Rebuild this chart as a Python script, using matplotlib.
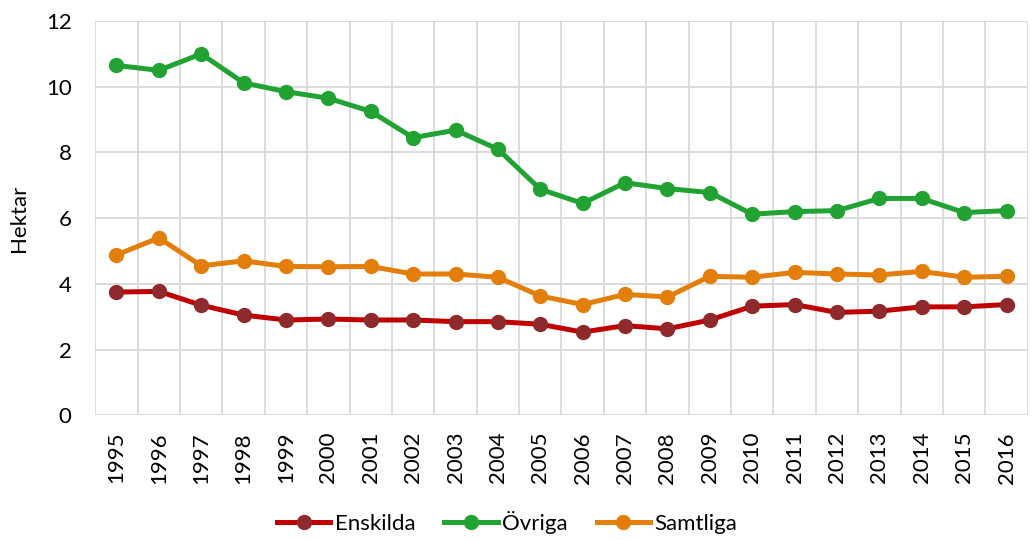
import numpy as np
import matplotlib.pyplot as plt

plt.rcParams['font.family'] = ['Lato', 'DejaVu Sans']

years = [str(y) for y in range(1995, 2017)]
enskilda = [3.75, 3.77, 3.35, 3.05, 2.90, 2.93, 2.90, 2.90, 2.85, 2.85, 2.77,
            2.53, 2.73, 2.63, 2.90, 3.32, 3.37, 3.13, 3.17, 3.30, 3.30, 3.37]
ovriga = [10.65, 10.50, 11.00, 10.12, 9.85, 9.65, 9.25, 8.45, 8.68, 8.10, 6.88,
          6.45, 7.08, 6.90, 6.78, 6.12, 6.20, 6.23, 6.60, 6.60, 6.17, 6.23]
samtliga = [4.88, 5.40, 4.55, 4.70, 4.53, 4.52, 4.53, 4.30, 4.30, 4.20, 3.63,
            3.37, 3.68, 3.60, 4.23, 4.20, 4.35, 4.30, 4.27, 4.38, 4.20, 4.23]

fig = plt.figure(figsize=(10.35, 5.4), dpi=100)
ax = fig.add_axes([0.092, 0.231, 0.901, 0.730])

x = np.arange(len(years))
ax.plot(x, enskilda, color='#C00000', lw=3.6, marker='o', ms=10,
        mfc='#8E2A2B', mec='#8E2A2B', label='Enskilda', zorder=3)
ax.plot(x, ovriga, color='#22A232', lw=3.6, marker='o', ms=10,
        mfc='#22A232', mec='#22A232', label='Övriga', zorder=3)
ax.plot(x, samtliga, color='#E37E0B', lw=3.6, marker='o', ms=10,
        mfc='#E37E0B', mec='#E37E0B', label='Samtliga', zorder=3)

ax.set_xlim(-0.5, len(years) - 0.5)
ax.set_ylim(0, 12)
ax.set_yticks(range(0, 13, 2))
ax.set_xticks(x)
ax.set_xticklabels(years, rotation=90, fontsize=16)
ax.tick_params(axis='y', labelsize=16, length=0, pad=17)
ax.tick_params(axis='x', length=0, pad=12)

# category boundaries as vertical grid
ax.set_xticks(np.arange(-0.5, len(years), 1), minor=True)
ax.tick_params(which='minor', length=0)
ax.grid(which='minor', axis='x', color='#D9D9D9', lw=1.3)
ax.grid(which='major', axis='y', color='#D9D9D9', lw=1.3)
ax.grid(which='major', axis='x', visible=False)
ax.set_axisbelow(True)
for s in ax.spines.values():
    s.set_visible(False)

ax.set_ylabel('Hektar', fontsize=16, labelpad=12)

fig.legend(loc='lower center', ncol=3, frameon=False, fontsize=16,
           bbox_to_anchor=(0.49, -0.025), handlelength=2.4, handletextpad=0.2,
           columnspacing=1.3)

fig.savefig('out.png', dpi=100)
